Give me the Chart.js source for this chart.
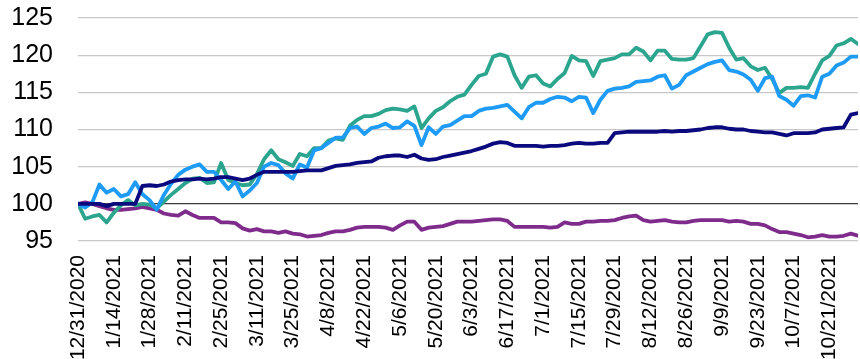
<!DOCTYPE html>
<html>
<head>
<meta charset="utf-8">
<script src="https://cdn.jsdelivr.net/npm/chart.js@4/dist/chart.umd.min.js"></script>
<style>
html,body{margin:0;padding:0;background:#fff;overflow:hidden;width:860px;height:359px;}
#wrap{width:860px;height:366px;position:relative;}
</style>
</head>
<body>
<div id="wrap"><canvas id="c" width="860" height="366"></canvas></div>
<script>
// Tick labels: every 10 business days
const tickLabels = ["12/31/2020","1/14/2021","1/28/2021","2/11/2021","2/25/2021","3/11/2021","3/25/2021","4/8/2021","4/22/2021","5/6/2021","5/20/2021","6/3/2021","6/17/2021","7/1/2021","7/15/2021","7/29/2021","8/12/2021","8/26/2021","9/9/2021","9/23/2021","10/7/2021","10/21/2021"];
// one value every 2 business days, starting 12/31/2020
const stepDays = 2;
const teal = [100,98,98.3,98.5,97.5,98.8,99.8,100.5,99.8,100,
99.9,99.4,100.3,101.2,102,102.8,103.4,103.5,102.8,102.9,
105.5,103.2,102.8,102.5,102.6,104,106,107.2,106,105.6,
105.1,106.7,106.4,107.5,107.5,108.5,108.8,108.6,110.5,111.3,
111.8,111.8,112.1,112.6,112.8,112.7,112.5,113.1,110.2,111.5,
112.5,113,113.8,114.4,114.7,116,117.2,117.5,119.8,120.1,
119.8,117.3,115.6,117.1,117.3,116.2,115.8,116.8,117.6,119.9,
119.3,119.2,117.2,119.2,119.4,119.6,120.1,120.1,121,120.5,
119.3,120.6,120.6,119.5,119.4,119.4,119.6,121.2,122.8,123.1,
123,121,119.4,119.6,118.5,118,118.3,116.8,114.9,115.6,
115.6,115.7,115.6,117.5,119.3,119.9,121.3,121.6,122.2,121.5];
const blue = [100,99.5,100.2,102.6,101.5,102,101,101.3,102.9,101.3,
100.5,99.2,101.2,102.7,103.9,104.6,105,105.3,104.3,104.3,
103.2,102,103,101,101.8,102.8,105,105.5,105.2,104.1,
103.4,105.3,104.9,107.2,107.5,108.2,108.9,108.9,110.2,110.4,
109.4,110.2,110.4,110.8,110.2,110.3,111.1,110.5,107.9,110.3,
109.4,110.4,110.6,111.2,111.8,111.8,112.5,112.8,112.9,113.1,
113.3,112.4,111.5,113,113.6,113.6,114.1,114.4,114.3,113.8,
114.4,114.3,112.2,114,115.2,115.5,115.6,115.8,116.4,116.5,
116.6,117.1,117.3,115.5,116,117.3,117.8,118.3,118.8,119.1,
119.3,118,117.8,117.4,116.7,115.2,116.9,117.1,114.5,114,
113.2,114.5,114.6,114.3,117.1,117.5,118.6,119,119.8,119.8];
const navy = [100,100,100,100,99.7,100,100,100,100,102.4,
102.5,102.4,102.6,103,103.2,103.3,103.3,103.4,103.3,103.4,
103.6,103.6,103.4,103.2,103.4,103.9,104.3,104.3,104.3,104.3,
104.3,104.4,104.5,104.5,104.5,104.8,105.1,105.2,105.3,105.5,
105.6,105.7,106.2,106.4,106.5,106.5,106.3,106.6,106.1,105.9,
106,106.3,106.5,106.7,106.9,107.1,107.4,107.7,108.1,108.3,
108.2,107.8,107.8,107.8,107.8,107.7,107.8,107.8,107.9,108.1,
108.2,108.1,108.1,108.2,108.2,109.5,109.6,109.7,109.7,109.7,
109.7,109.7,109.8,109.7,109.8,109.8,109.9,110,110.2,110.3,
110.3,110.1,110,110,109.8,109.7,109.6,109.6,109.4,109.2,
109.5,109.5,109.5,109.6,110,110.1,110.2,110.3,112,112.2];
const purple = [100,100.2,100,99.7,99.4,99.2,99.2,99.3,99.4,99.6,
99.4,99.2,98.7,98.5,98.4,99,98.5,98.1,98.1,98.1,
97.5,97.5,97.4,96.7,96.4,96.6,96.3,96.3,96.1,96.3,
96,95.9,95.6,95.7,95.8,96.1,96.3,96.3,96.5,96.8,
96.9,96.9,96.9,96.8,96.5,97.1,97.6,97.6,96.5,96.8,
96.9,97,97.3,97.6,97.6,97.6,97.7,97.8,97.9,97.9,
97.7,96.9,96.9,96.9,96.9,96.9,96.8,96.9,97.5,97.3,
97.3,97.6,97.6,97.7,97.7,97.8,98.1,98.3,98.4,97.8,
97.6,97.7,97.8,97.6,97.5,97.5,97.7,97.8,97.8,97.8,
97.8,97.6,97.7,97.6,97.3,97.3,97.1,96.6,96.2,96.2,
96,95.8,95.5,95.6,95.8,95.6,95.6,95.7,96,95.7];
const yTicks = {min:95, max:125, step:5};

const toPts = arr => arr.map((v,i)=>({x:i*stepDays, y:v}));
const lastX = (teal.length-1)*stepDays;

function ds(arr, color, order){
  return {data: toPts(arr), borderColor: color, backgroundColor: color, borderWidth: 3.8,
    pointRadius: 0, tension: 0, borderJoinStyle: 'round', borderCapStyle: 'round', order: order, fill:false};
}

new Chart(document.getElementById('c'), {
  type: 'line',
  data: { datasets: [
    ds(navy, '#0a0a7e', 1),
    ds(blue, '#1d9bf7', 2),
    ds(teal, '#2ca58e', 3),
    ds(purple, '#7f2b8c', 4)
  ]},
  options: {
    responsive: false, animation: false, devicePixelRatio: 1,
    layout: { padding: {left: 0, right: 2, top: 18, bottom: 0} },
    plugins: { legend: {display:false}, tooltip: {enabled:false} },
    scales: {
      x: {
        type: 'linear', min: 0, max: lastX,
        grid: { display: false, drawTicks: false },
        border: { display: false },
        ticks: {
          stepSize: 10, autoSkip: false, maxRotation: 90, minRotation: 90, padding: 14,
          color: '#000', font: {family: '"Liberation Sans", Arial, sans-serif', size: 21},
          callback: v => (Number.isInteger(v/10) && tickLabels[v/10]) ? tickLabels[v/10] : ''
        },
        afterFit: s => { s.height = 366 - 241; s.paddingLeft = 0; s.paddingRight = 0; }
      },
      y: {
        min: yTicks.min, max: yTicks.max,
        grid: { drawTicks: false, lineWidth: 1.3,
          color: c => (c.tick && c.tick.value === 100) ? '#3a3a3a' : '#c8c8c8' },
        border: { display: false },
        ticks: { stepSize: yTicks.step, padding: 25, color: '#000',
          font: {family: '"Liberation Sans", Arial, sans-serif', size: 25} },
        afterFit: s => { s.width = 78; s.paddingTop = 0; s.paddingBottom = 0; }
      }
    }
  }
});
</script>
</body>
</html>
